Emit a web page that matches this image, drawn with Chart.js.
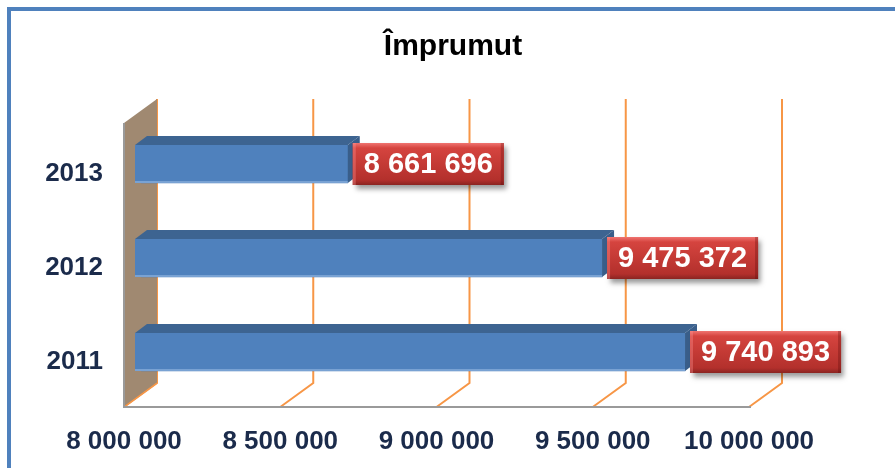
<!DOCTYPE html>
<html>
<head>
<meta charset="utf-8">
<title>Împrumut</title>
<script src="https://cdn.jsdelivr.net/npm/chart.js@4/dist/chart.umd.min.js"></script>
<style>
  body { margin: 0; background: #ffffff; }
  canvas { display: block; }
</style>
</head>
<body>
<canvas id="loanChart" width="895" height="468"></canvas>
<script>
// chart data
const years = ['2013', '2012', '2011'];
const loanValues = [8661696, 9475372, 9740893];
const loanLabels = ['8 661 696', '9 475 372', '9 740 893'];
const tickValues = [8000000, 8500000, 9000000, 9500000, 10000000];
const tickLabels = ['8 000 000', '8 500 000', '9 000 000', '9 500 000', '10 000 000'];

const BAR_FRONT = '#4F81BD';
const BAR_TOP = '#3D6491';
const BAR_SIDE = '#395E8A';
const GRID_ORANGE = '#F79646';
const WALL_BROWN = '#A08971';
const AXIS_TEXT = '#1B2B4B';
const FONT = "'Liberation Sans', Arial, sans-serif";

// depth of the fake 3D box (bar face offset)
const DEPTH_X = 12;
const DEPTH_Y = -9;
// bars start a little inside the side wall
const BAR_LEAD = 6;

/**
 * Frame around the chart
 */
const framePlugin = {
  id: 'frame',
  beforeDraw(chart) {
    const ctx = chart.ctx;
    ctx.save();
    ctx.strokeStyle = '#4F81BD';
    ctx.lineWidth = 4;
    ctx.beginPath();
    ctx.moveTo(chart.width, 9);
    ctx.lineTo(9, 9);
    ctx.lineTo(9, chart.height);
    ctx.stroke();
    ctx.restore();
  }
};

/**
 * Back wall, side wall and floor, drawn from the x scale
 */
const wallPlugin = {
  id: 'walls',
  beforeDatasetsDraw(chart) {
    const ctx = chart.ctx;
    const area = chart.chartArea;
    const xScale = chart.scales.x;

    const backTop = area.top - 18;
    const backBottom = area.bottom - 16;
    const frontBottom = area.bottom + 8;
    const backDx = 16;
    const frontDx = -17;

    ctx.save();

    // orange grid lines on the back wall and floor
    ctx.strokeStyle = GRID_ORANGE;
    ctx.lineWidth = 2;
    tickValues.forEach((v) => {
      const px = xScale.getPixelForValue(v);
      ctx.beginPath();
      ctx.moveTo(px + backDx, backTop);
      ctx.lineTo(px + backDx, backBottom);
      ctx.lineTo(px + frontDx, frontBottom);
      ctx.stroke();
    });

    // side wall at the minimum value
    const x0 = xScale.getPixelForValue(tickValues[0]);
    ctx.fillStyle = WALL_BROWN;
    ctx.beginPath();
    ctx.moveTo(x0 + frontDx, area.top + 6);
    ctx.lineTo(x0 + backDx, backTop);
    ctx.lineTo(x0 + backDx, backBottom);
    ctx.lineTo(x0 + frontDx, frontBottom);
    ctx.closePath();
    ctx.fill();

    ctx.strokeStyle = GRID_ORANGE;
    ctx.lineWidth = 1.5;
    ctx.beginPath();
    ctx.moveTo(x0 + backDx, backBottom);
    ctx.lineTo(x0 + frontDx, frontBottom);
    ctx.stroke();

    // gray front edges
    const xEnd = xScale.getPixelForValue(tickValues[tickValues.length - 1]);
    ctx.strokeStyle = '#9A9A9A';
    ctx.lineWidth = 2;
    ctx.beginPath();
    ctx.moveTo(x0 + frontDx, area.top + 6);
    ctx.lineTo(x0 + frontDx, frontBottom);
    ctx.lineTo(xEnd + frontDx + 2, frontBottom);
    ctx.stroke();

    ctx.restore();
  }
};

/**
 * Top and side faces of the bars plus red value boxes
 */
const barBoxPlugin = {
  id: 'barBoxes',
  afterDatasetsDraw(chart) {
    const ctx = chart.ctx;
    const meta = chart.getDatasetMeta(0);
    const left = chart.chartArea.left;

    ctx.save();
    meta.data.forEach((bar) => {
      const top = bar.y - bar.height / 2;
      const bottom = bar.y + bar.height / 2;
      const start = Math.max(bar.base, left) - BAR_LEAD;

      // front face lead-in over the wall
      ctx.fillStyle = BAR_FRONT;
      ctx.fillRect(start, top, BAR_LEAD + 1, bar.height);

      // top face
      ctx.fillStyle = BAR_TOP;
      ctx.beginPath();
      ctx.moveTo(start, top);
      ctx.lineTo(start + DEPTH_X, top + DEPTH_Y);
      ctx.lineTo(bar.x + DEPTH_X, top + DEPTH_Y);
      ctx.lineTo(bar.x, top);
      ctx.closePath();
      ctx.fill();

      // right face
      ctx.fillStyle = BAR_SIDE;
      ctx.beginPath();
      ctx.moveTo(bar.x, top);
      ctx.lineTo(bar.x + DEPTH_X, top + DEPTH_Y);
      ctx.lineTo(bar.x + DEPTH_X, bottom + DEPTH_Y);
      ctx.lineTo(bar.x, bottom);
      ctx.closePath();
      ctx.fill();

      // light lower edge of the front face
      ctx.fillStyle = 'rgba(150, 185, 225, 0.6)';
      ctx.fillRect(start, bottom - 2, bar.x - start, 2);
    });

    // value boxes
    ctx.font = 'bold 29px ' + FONT;
    ctx.textAlign = 'center';
    ctx.textBaseline = 'middle';
    meta.data.forEach((bar, i) => {
      const text = loanLabels[i];
      const w = ctx.measureText(text).width + 22;
      const h = 42;
      const bx = bar.x + 5;
      const by = bar.y - h / 2;

      ctx.save();
      ctx.shadowColor = 'rgba(0, 0, 0, 0.4)';
      ctx.shadowBlur = 5;
      ctx.shadowOffsetX = 3;
      ctx.shadowOffsetY = 4;
      ctx.fillStyle = '#BE3530';
      ctx.fillRect(bx, by, w, h);
      ctx.restore();

      const grad = ctx.createLinearGradient(0, by, 0, by + h);
      grad.addColorStop(0, '#F07470');
      grad.addColorStop(0.12, '#D5443F');
      grad.addColorStop(0.5, '#C43A35');
      grad.addColorStop(0.88, '#B3302C');
      grad.addColorStop(1, '#8A2421');
      ctx.fillStyle = grad;
      ctx.fillRect(bx, by, w, h);

      // bevel edges
      ctx.fillStyle = 'rgba(255, 150, 150, 0.35)';
      ctx.fillRect(bx, by, 3, h);
      ctx.fillStyle = 'rgba(90, 10, 10, 0.3)';
      ctx.fillRect(bx + w - 3, by, 3, h);

      ctx.fillStyle = '#FFFFFF';
      ctx.fillText(text, bx + w / 2, bar.y + 1);
    });
    ctx.restore();
  }
};

const ctx = document.getElementById('loanChart').getContext('2d');
const chart = new Chart(ctx, {
  type: 'bar',
  data: {
    labels: years,
    datasets: [{
      label: 'Împrumut',
      data: loanValues,
      backgroundColor: BAR_FRONT,
      borderWidth: 0,
      barThickness: 38
    }]
  },
  options: {
    indexAxis: 'y',
    responsive: false,
    animation: false,
    layout: {
      padding: { left: 11, right: 0, top: 0, bottom: 0 }
    },
    plugins: {
      legend: { display: false },
      tooltip: { enabled: false },
      title: {
        display: true,
        text: 'Împrumut',
        color: '#000000',
        font: { family: FONT, size: 30, weight: 'bold' },
        padding: { top: 29, bottom: 52 }
      }
    },
    scales: {
      x: {
        type: 'linear',
        min: tickValues[0],
        max: tickValues[tickValues.length - 1],
        grid: { display: false, drawTicks: false },
        border: { display: false },
        afterBuildTicks: (scale) => {
          scale.ticks = tickValues.map((v) => ({ value: v }));
        },
        afterFit: (scale) => { scale.height = 69; },
        ticks: {
          color: AXIS_TEXT,
          font: { family: FONT, size: 26, weight: 'bold' },
          padding: 27,
          labelOffset: -17,
          maxRotation: 0,
          autoSkip: false,
          callback: (value) => tickLabels[tickValues.indexOf(value)]
        }
      },
      y: {
        grid: { display: false, drawTicks: false },
        border: { display: false },
        afterFit: (scale) => { scale.width = 130; },
        ticks: {
          color: AXIS_TEXT,
          font: { family: FONT, size: 26, weight: 'bold' },
          padding: 38,
          labelOffset: 10
        }
      },
      // empty axis that keeps room on the right for the value boxes
      yRight: {
        type: 'category',
        axis: 'y',
        position: 'right',
        grid: { display: false, drawTicks: false },
        border: { display: false },
        ticks: { display: false },
        afterFit: (scale) => { scale.width = 129; }
      }
    }
  },
  plugins: [framePlugin, wallPlugin, barBoxPlugin]
});
</script>
</body>
</html>
